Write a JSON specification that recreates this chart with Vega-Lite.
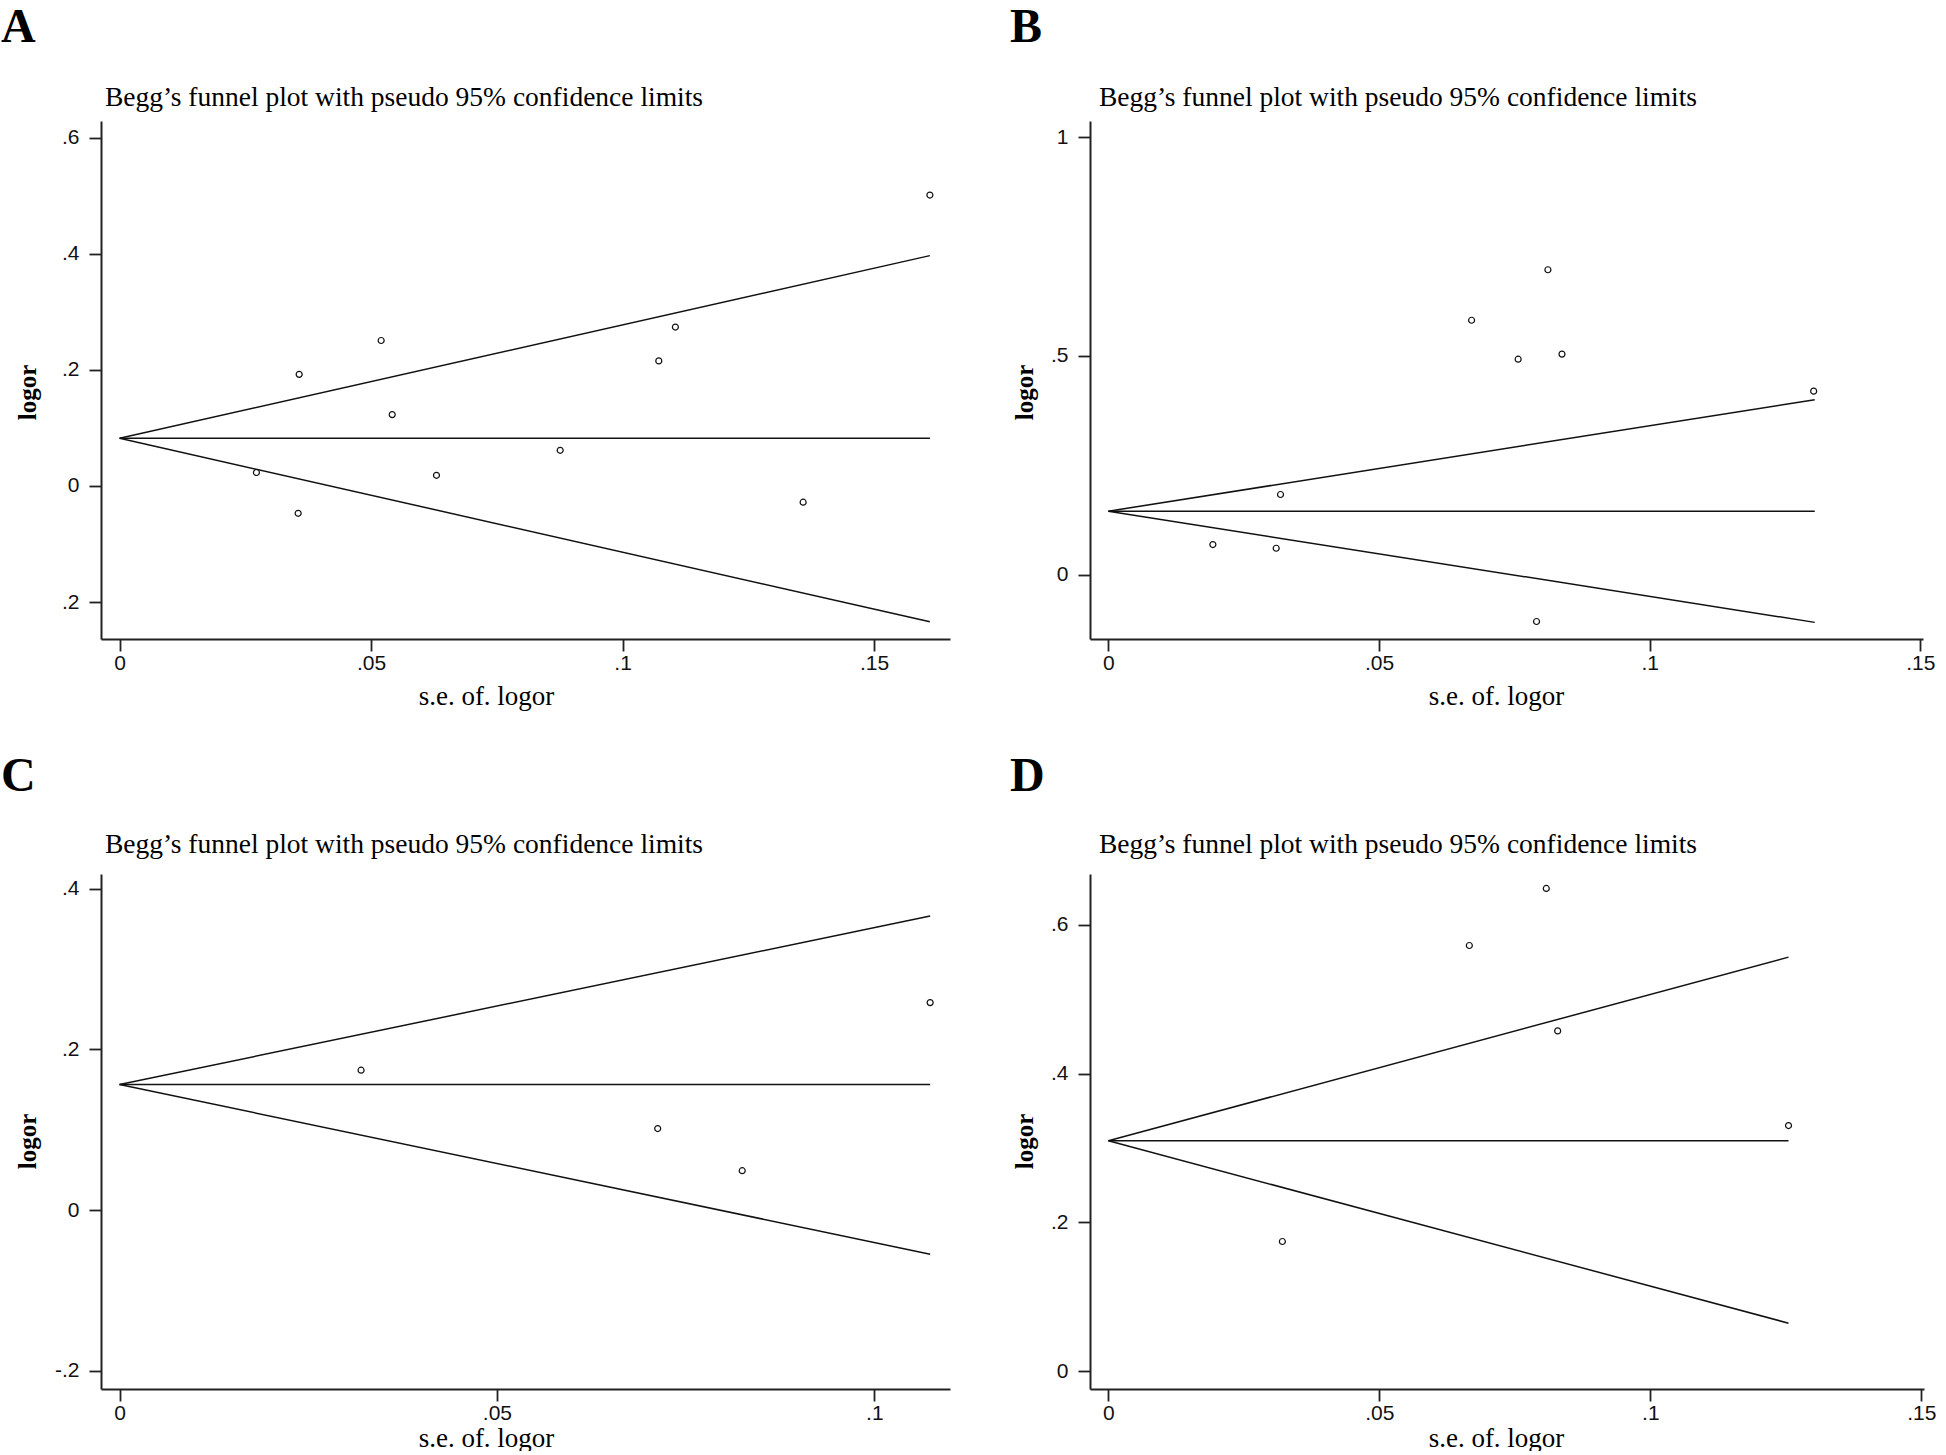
{
  "$schema": "https://vega.github.io/schema/vega-lite/v6.json",
  "background": "white",
  "padding": {"left": 0, "top": 3, "right": 0, "bottom": 0},
  "datasets": {
    "points": [
      {"panel": "A", "se": 0.1611, "logor": 0.5014},
      {"panel": "A", "se": 0.0520, "logor": 0.2507},
      {"panel": "A", "se": 0.0357, "logor": 0.1924},
      {"panel": "A", "se": 0.0542, "logor": 0.1230},
      {"panel": "A", "se": 0.1105, "logor": 0.2739},
      {"panel": "A", "se": 0.1072, "logor": 0.2156},
      {"panel": "A", "se": 0.0876, "logor": 0.0615},
      {"panel": "A", "se": 0.0630, "logor": 0.0184},
      {"panel": "A", "se": 0.0272, "logor": 0.0232},
      {"panel": "A", "se": 0.0355, "logor": -0.0471},
      {"panel": "A", "se": 0.1359, "logor": -0.0279},
      {"panel": "B", "se": 0.0812, "logor": 0.697},
      {"panel": "B", "se": 0.0671, "logor": 0.5816},
      {"panel": "B", "se": 0.0757, "logor": 0.4926},
      {"panel": "B", "se": 0.0838, "logor": 0.5042},
      {"panel": "B", "se": 0.1303, "logor": 0.4195},
      {"panel": "B", "se": 0.0318, "logor": 0.1833},
      {"panel": "B", "se": 0.0193, "logor": 0.0689},
      {"panel": "B", "se": 0.0310, "logor": 0.0604},
      {"panel": "B", "se": 0.0791, "logor": -0.107},
      {"panel": "C", "se": 0.1074, "logor": 0.2584},
      {"panel": "C", "se": 0.0320, "logor": 0.1742},
      {"panel": "C", "se": 0.0713, "logor": 0.1015},
      {"panel": "C", "se": 0.0825, "logor": 0.0490},
      {"panel": "D", "se": 0.0808, "logor": 0.6486},
      {"panel": "D", "se": 0.0666, "logor": 0.5720},
      {"panel": "D", "se": 0.0829, "logor": 0.4573},
      {"panel": "D", "se": 0.1255, "logor": 0.3302},
      {"panel": "D", "se": 0.0321, "logor": 0.1745}
    ],
    "lines": [
      {"panel": "A", "line": "center", "se": 0, "logor": 0.0822},
      {"panel": "A", "line": "center", "se": 0.1611, "logor": 0.0822},
      {"panel": "A", "line": "upper", "se": 0, "logor": 0.0822},
      {"panel": "A", "line": "upper", "se": 0.1611, "logor": 0.397},
      {"panel": "A", "line": "lower", "se": 0, "logor": 0.0822},
      {"panel": "A", "line": "lower", "se": 0.1611, "logor": -0.234},
      {"panel": "B", "line": "center", "se": 0, "logor": 0.1451},
      {"panel": "B", "line": "center", "se": 0.1305, "logor": 0.1451},
      {"panel": "B", "line": "upper", "se": 0, "logor": 0.1451},
      {"panel": "B", "line": "upper", "se": 0.1305, "logor": 0.400},
      {"panel": "B", "line": "lower", "se": 0, "logor": 0.1451},
      {"panel": "B", "line": "lower", "se": 0.1305, "logor": -0.109},
      {"panel": "C", "line": "center", "se": 0, "logor": 0.1563},
      {"panel": "C", "line": "center", "se": 0.1074, "logor": 0.1563},
      {"panel": "C", "line": "upper", "se": 0, "logor": 0.1563},
      {"panel": "C", "line": "upper", "se": 0.1074, "logor": 0.3663},
      {"panel": "C", "line": "lower", "se": 0, "logor": 0.1563},
      {"panel": "C", "line": "lower", "se": 0.1074, "logor": -0.055},
      {"panel": "D", "line": "center", "se": 0, "logor": 0.3097},
      {"panel": "D", "line": "center", "se": 0.1255, "logor": 0.3097},
      {"panel": "D", "line": "upper", "se": 0, "logor": 0.3097},
      {"panel": "D", "line": "upper", "se": 0.1255, "logor": 0.5564},
      {"panel": "D", "line": "lower", "se": 0, "logor": 0.3097},
      {"panel": "D", "line": "lower", "se": 0.1255, "logor": 0.0648}
    ]
  },
  "config": {
    "view": {"stroke": null},
    "axis": {
      "grid": false,
      "domainColor": "#222",
      "domainWidth": 2,
      "tickColor": "#222",
      "tickWidth": 1.8,
      "tickSize": 12,
      "labelFont": "Liberation Sans",
      "labelFontSize": 21,
      "labelColor": "#111",
      "labelFlush": false,
      "labelOverlap": false,
      "titleFont": "Liberation Serif",
      "titleColor": "#000"
    },
    "axisX": {"labelPadding": 1, "titleFontSize": 27, "titleFontWeight": "normal"},
    "axisY": {"labelPadding": 10, "titleFontSize": 25, "titleFontWeight": "bold"},
    "title": {"font": "Liberation Serif", "color": "#000"}
  },
  "spacing": 44,
  "vconcat": [
    {
      "spacing": 59,
      "hconcat": [
        {
          "title": {"text": "A", "anchor": "start", "frame": "bounds", "fontSize": 48, "fontWeight": "bold", "baseline": "alphabetic", "offset": -6, "dx": -14.5},
          "vconcat": [
            {
              "title": {"text": "Begg’s funnel plot with pseudo 95% confidence limits", "anchor": "start", "frame": "group", "fontSize": 27.5, "fontWeight": "normal", "baseline": "alphabetic", "offset": -12, "dx": 4},
              "width": 849,
              "height": 518,
              "encoding": {
                "x": {"field": "se", "type": "quantitative", "scale": {"domain": [-0.0037, 0.1651], "nice": false, "zero": false},
                  "axis": {"values": [0, 0.05, 0.1, 0.15], "title": "s.e. of. logor", "titleX": 385, "titlePadding": 10,
                    "labelExpr": "datum.value == 0 ? '0' : replace(format(datum.value, '.2~f'), '0.', '.')"}},
                "y": {"field": "logor", "type": "quantitative", "scale": {"domain": [-0.2637, 0.629], "nice": false, "zero": false},
                  "axis": {"values": [-0.2, 0, 0.2, 0.4, 0.6], "title": "logor", "titleY": 271, "titlePadding": 21,
                    "labelExpr": "datum.value == 0 ? '0' : replace(format(abs(datum.value), '.1f'), '0.', '.')"}}
              },
              "layer": [
                {"data": {"name": "lines"}, "transform": [{"filter": "datum.panel == 'A'"}],
                  "mark": {"type": "line", "color": "#111", "strokeWidth": 1.5},
                  "encoding": {"detail": {"field": "line"}}},
                {"data": {"name": "points"}, "transform": [{"filter": "datum.panel == 'A'"}],
                  "mark": {"type": "point", "shape": "circle", "filled": false, "color": "#111", "size": 36, "strokeWidth": 1.2, "opacity": 1}}
              ]
            }
          ]
        },
        {
          "title": {"text": "B", "anchor": "start", "frame": "bounds", "fontSize": 48, "fontWeight": "bold", "baseline": "alphabetic", "offset": -6, "dx": -2.5},
          "vconcat": [
            {
              "title": {"text": "Begg’s funnel plot with pseudo 95% confidence limits", "anchor": "start", "frame": "group", "fontSize": 27.5, "fontWeight": "normal", "baseline": "alphabetic", "offset": -12, "dx": 9},
              "width": 833,
              "height": 518,
              "encoding": {
                "x": {"field": "se", "type": "quantitative", "scale": {"domain": [-0.0034, 0.1505], "nice": false, "zero": false},
                  "axis": {"values": [0, 0.05, 0.1, 0.15], "title": "s.e. of. logor", "titleX": 406, "titlePadding": 10,
                    "labelExpr": "datum.value == 0 ? '0' : replace(format(datum.value, '.2~f'), '0.', '.')"}},
                "y": {"field": "logor", "type": "quantitative", "scale": {"domain": [-0.147, 1.037], "nice": false, "zero": false},
                  "axis": {"values": [0, 0.5, 1], "title": "logor", "titleY": 271, "titlePadding": 13,
                    "labelExpr": "replace(format(datum.value, '~g'), '0.', '.')"}}
              },
              "layer": [
                {"data": {"name": "lines"}, "transform": [{"filter": "datum.panel == 'B'"}],
                  "mark": {"type": "line", "color": "#111", "strokeWidth": 1.5},
                  "encoding": {"detail": {"field": "line"}}},
                {"data": {"name": "points"}, "transform": [{"filter": "datum.panel == 'B'"}],
                  "mark": {"type": "point", "shape": "circle", "filled": false, "color": "#111", "size": 36, "strokeWidth": 1.2, "opacity": 1}}
              ]
            }
          ]
        }
      ]
    },
    {
      "spacing": 59,
      "hconcat": [
        {
          "title": {"text": "C", "anchor": "start", "frame": "bounds", "fontSize": 48, "fontWeight": "bold", "baseline": "alphabetic", "offset": -8.5, "dx": -14.5},
          "vconcat": [
            {
              "title": {"text": "Begg’s funnel plot with pseudo 95% confidence limits", "anchor": "start", "frame": "group", "fontSize": 27.5, "fontWeight": "normal", "baseline": "alphabetic", "offset": -6, "dx": 4},
              "width": 849,
              "height": 515,
              "encoding": {
                "x": {"field": "se", "type": "quantitative", "scale": {"domain": [-0.00246, 0.11003], "nice": false, "zero": false},
                  "axis": {"values": [0, 0.05, 0.1], "title": "s.e. of. logor", "titleX": 385, "titlePadding": 2,
                    "labelExpr": "datum.value == 0 ? '0' : replace(format(datum.value, '.2~f'), '0.', '.')"}},
                "y": {"field": "logor", "type": "quantitative", "scale": {"domain": [-0.223, 0.4186], "nice": false, "zero": false},
                  "axis": {"values": [-0.2, 0, 0.2, 0.4], "title": "logor", "titleY": 267, "titlePadding": 14,
                    "labelExpr": "datum.value == 0 ? '0' : (datum.value < 0 ? '-' : '') + replace(format(abs(datum.value), '.1f'), '0.', '.')"}}
              },
              "layer": [
                {"data": {"name": "lines"}, "transform": [{"filter": "datum.panel == 'C'"}],
                  "mark": {"type": "line", "color": "#111", "strokeWidth": 1.5},
                  "encoding": {"detail": {"field": "line"}}},
                {"data": {"name": "points"}, "transform": [{"filter": "datum.panel == 'C'"}],
                  "mark": {"type": "point", "shape": "circle", "filled": false, "color": "#111", "size": 36, "strokeWidth": 1.2, "opacity": 1}}
              ]
            }
          ]
        },
        {
          "title": {"text": "D", "anchor": "start", "frame": "bounds", "fontSize": 48, "fontWeight": "bold", "baseline": "alphabetic", "offset": -8.5, "dx": -2.5},
          "vconcat": [
            {
              "title": {"text": "Begg’s funnel plot with pseudo 95% confidence limits", "anchor": "start", "frame": "group", "fontSize": 27.5, "fontWeight": "normal", "baseline": "alphabetic", "offset": -6, "dx": 9},
              "width": 834,
              "height": 515,
              "encoding": {
                "x": {"field": "se", "type": "quantitative", "scale": {"domain": [-0.0034, 0.1505], "nice": false, "zero": false},
                  "axis": {"values": [0, 0.05, 0.1, 0.15], "title": "s.e. of. logor", "titleX": 406, "titlePadding": 2,
                    "labelExpr": "datum.value == 0 ? '0' : replace(format(datum.value, '.2~f'), '0.', '.')"}},
                "y": {"field": "logor", "type": "quantitative", "scale": {"domain": [-0.0236, 0.668], "nice": false, "zero": false},
                  "axis": {"values": [0, 0.2, 0.4, 0.6], "title": "logor", "titleY": 267, "titlePadding": 13,
                    "labelExpr": "replace(format(datum.value, '.1~f'), '0.', '.')"}}
              },
              "layer": [
                {"data": {"name": "lines"}, "transform": [{"filter": "datum.panel == 'D'"}],
                  "mark": {"type": "line", "color": "#111", "strokeWidth": 1.5},
                  "encoding": {"detail": {"field": "line"}}},
                {"data": {"name": "points"}, "transform": [{"filter": "datum.panel == 'D'"}],
                  "mark": {"type": "point", "shape": "circle", "filled": false, "color": "#111", "size": 36, "strokeWidth": 1.2, "opacity": 1}}
              ]
            }
          ]
        }
      ]
    }
  ]
}
